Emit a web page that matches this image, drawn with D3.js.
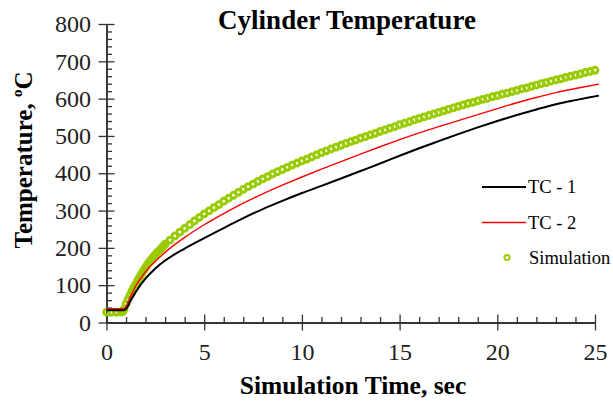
<!DOCTYPE html>
<html>
<head>
<meta charset="utf-8">
<script src="https://cdn.jsdelivr.net/npm/d3@7"></script>
<style>
    body { margin: 0; background: #fff; }
</style>
</head>
<body>
<svg id="chart" width="613" height="404"></svg>
<script>
// thermocouple readings, time in sec, temperature in deg C
let tcTime = [0, 0.5, 0.9, 1, 1.25, 1.5, 2, 2.5, 3, 4, 5, 6, 7, 8, 9, 10, 11, 12, 13, 14, 15,
    16, 17, 18, 19, 20, 21, 22, 23, 24, 25, 25.2]
let tc1 = [33, 33, 33, 36, 60, 82, 118, 145, 166, 198, 226, 253, 280, 304, 326, 347, 366, 386, 406, 426, 447,
    467, 486, 505, 523, 540, 556, 571, 585, 596, 606, 608]
let tc2 = [37, 37, 37, 44, 72, 98, 136, 164, 188, 228, 262, 292, 320, 345, 368, 390, 411, 431, 451, 471, 490,
    508, 525, 541, 557, 573, 589, 603, 616, 627, 637, 639]

// simulation output, denser where the curve climbs fast
let simTime = [0, 0.25, 0.5, 0.75, 0.85, 0.9, 1.0, 1.1, 1.2, 1.3, 1.4, 1.5, 1.6, 1.7, 1.8, 1.9,
    2.0, 2.1, 2.2, 2.3, 2.4, 2.5, 2.6, 2.7, 2.8, 2.9, 3.0,
    3.25, 3.5, 3.75, 4, 4.25, 4.5, 4.75, 5, 5.25, 5.5, 5.75, 6, 6.25, 6.5, 6.75, 7,
    7.25, 7.5, 7.75, 8, 8.25, 8.5, 8.75, 9, 9.25, 9.5, 9.75, 10, 10.25, 10.5, 10.75, 11,
    11.25, 11.5, 11.75, 12, 12.25, 12.5, 12.75, 13, 13.25, 13.5, 13.75, 14, 14.25, 14.5, 14.75, 15,
    15.25, 15.5, 15.75, 16, 16.25, 16.5, 16.75, 17, 17.25, 17.5, 17.75, 18, 18.25, 18.5, 18.75, 19,
    19.25, 19.5, 19.75, 20, 20.25, 20.5, 20.75, 21, 21.25, 21.5, 21.75, 22, 22.25, 22.5, 22.75, 23,
    23.25, 23.5, 23.75, 24, 24.25, 24.5, 24.75, 25]
let simTemp = [28, 28, 28, 28, 30, 36, 50, 62, 73, 84, 94, 103, 113, 122, 131, 140,
    148, 156, 163, 169, 176, 182, 188, 193, 198, 204, 210,
    221, 232, 242, 252, 262, 272, 282, 291, 299, 308, 316, 325, 333, 341, 349, 357,
    364, 371, 378, 385, 391, 398, 404, 410, 416, 422, 427, 433, 438, 444, 449, 455,
    460, 465, 470, 475, 480, 485, 489, 494, 498, 503, 507, 512, 516, 521, 525, 530,
    534, 538, 543, 547, 551, 555, 559, 563, 567, 571, 575, 579, 583, 587, 590, 594,
    598, 601, 605, 608, 612, 615, 619, 622, 626, 629, 633, 636, 640, 643, 647, 650,
    653, 657, 660, 663, 666, 670, 673, 676]

let xTicks = [0, 5, 10, 15, 20, 25]
let xMinor = d3.range(0, 26, 1).filter(d => d % 5 != 0)
let yTicks = [0, 100, 200, 300, 400, 500, 600, 700, 800]
let yMinor = d3.range(0, 801, 20).filter(d => d % 100 != 0)

let serif = '"Liberation Serif", "Times New Roman", serif'
let simGreen = '#99cc00'
let axisColor = '#333'

let svg = d3.select('#chart')

let x = d3.scaleLinear().domain([0, 25]).range([106.5, 595])
let y = d3.scaleLinear().domain([0, 800]).range([322.5, 24])

function styleAxis(g) {
    g.selectAll('path.domain').attr('stroke', axisColor).attr('stroke-width', 1.3)
    g.selectAll('.tick line').attr('stroke', axisColor).attr('stroke-width', 1.3)
}

//y axis: majors cross the axis, minors point inward
let gy = svg.append('g').attr('transform', 'translate(' + x(0) + ',0)')
gy.call(d3.axisLeft(y).tickValues(yTicks).tickSize(8).tickSizeOuter(0).tickPadding(7.5))
gy.call(styleAxis)
gy.selectAll('.tick text')
    .attr('fill', '#222')
    .style('font-family', serif)
    .style('font-size', '24px')

let gy2 = svg.append('g').attr('transform', 'translate(' + x(0) + ',0)')
gy2.call(d3.axisRight(y).tickValues(yTicks).tickSize(8).tickSizeOuter(0).tickFormat(''))
gy2.call(styleAxis)
let gy3 = svg.append('g').attr('transform', 'translate(' + x(0) + ',0)')
gy3.call(d3.axisRight(y).tickValues(yMinor).tickSize(5.5).tickSizeOuter(0).tickFormat(''))
gy3.call(styleAxis)

//x axis
let gx = svg.append('g').attr('transform', 'translate(0,' + y(0) + ')')
gx.call(d3.axisBottom(x).tickValues(xTicks).tickSize(8).tickSizeOuter(0))
gx.call(styleAxis)
gx.selectAll('.tick text')
    .attr('y', 37.5)
    .attr('dy', null)
    .attr('fill', '#222')
    .style('font-family', serif)
    .style('font-size', '24px')

let gx2 = svg.append('g').attr('transform', 'translate(0,' + y(0) + ')')
gx2.call(d3.axisTop(x).tickValues(xTicks).tickSize(8).tickSizeOuter(0).tickFormat(''))
gx2.call(styleAxis)
let gx3 = svg.append('g').attr('transform', 'translate(0,' + y(0) + ')')
gx3.call(d3.axisTop(x).tickValues(xMinor).tickSize(5.5).tickSizeOuter(0).tickFormat(''))
gx3.call(styleAxis)

//simulation markers
let simData = simTime.map((t, i) => [t, simTemp[i]])
svg.append('g')
    .selectAll('circle')
    .data(simData)
    .enter()
    .append('circle')
    .attr('cx', d => x(d[0]))
    .attr('cy', d => y(d[1]))
    .attr('r', 2.9)
    .attr('fill', 'none')
    .attr('stroke', simGreen)
    .attr('stroke-width', 3)

//thermocouple lines
let line = d3.line()
    .x(d => x(d[0]))
    .y(d => y(d[1]))
    .curve(d3.curveMonotoneX)

svg.append('path')
    .datum(tcTime.map((t, i) => [t, tc2[i]]))
    .attr('d', line)
    .attr('fill', 'none')
    .attr('stroke', '#ff0000')
    .attr('stroke-width', 1.4)

svg.append('path')
    .datum(tcTime.map((t, i) => [t, tc1[i]]))
    .attr('d', line)
    .attr('fill', 'none')
    .attr('stroke', '#000')
    .attr('stroke-width', 2)

//titles
svg.append('text')
    .attr('x', 347)
    .attr('y', 29)
    .attr('text-anchor', 'middle')
    .style('font-family', serif)
    .style('font-size', '27px')
    .style('font-weight', 'bold')
    .text('Cylinder Temperature')

svg.append('text')
    .attr('x', 353)
    .attr('y', 394)
    .attr('text-anchor', 'middle')
    .style('font-family', serif)
    .style('font-size', '25.5px')
    .style('font-weight', 'bold')
    .text('Simulation Time, sec')

let yTitle = svg.append('text')
    .attr('transform', 'translate(32,160) rotate(-90)')
    .attr('text-anchor', 'middle')
    .style('font-family', serif)
    .style('font-size', '25px')
    .style('font-weight', 'bold')
yTitle.append('tspan').text('Temperature, ')
yTitle.append('tspan').style('font-size', '15px').attr('dy', -10).text('o')
yTitle.append('tspan').attr('dy', 10).text('C')

//legend
let legend = svg.append('g')
let legendItems = [
    { name: 'TC - 1', color: '#000', width: 2, y: 187 },
    { name: 'TC - 2', color: '#ff0000', width: 1.4, y: 222.5 }
]
legendItems.forEach(function (d) {
    legend.append('line')
        .attr('x1', 482).attr('x2', 526)
        .attr('y1', d.y).attr('y2', d.y)
        .attr('stroke', d.color)
        .attr('stroke-width', d.width)
    legend.append('text')
        .attr('x', 528)
        .attr('y', d.y + 6)
        .style('font-family', serif)
        .style('font-size', '18.5px')
        .text(d.name)
})
legend.append('circle')
    .attr('cx', 507).attr('cy', 257.5)
    .attr('r', 2.6)
    .attr('fill', 'none')
    .attr('stroke', simGreen)
    .attr('stroke-width', 2)
legend.append('text')
    .attr('x', 529)
    .attr('y', 263.5)
    .style('font-family', serif)
    .style('font-size', '18.5px')
    .text('Simulation')
</script>
</body>
</html>
